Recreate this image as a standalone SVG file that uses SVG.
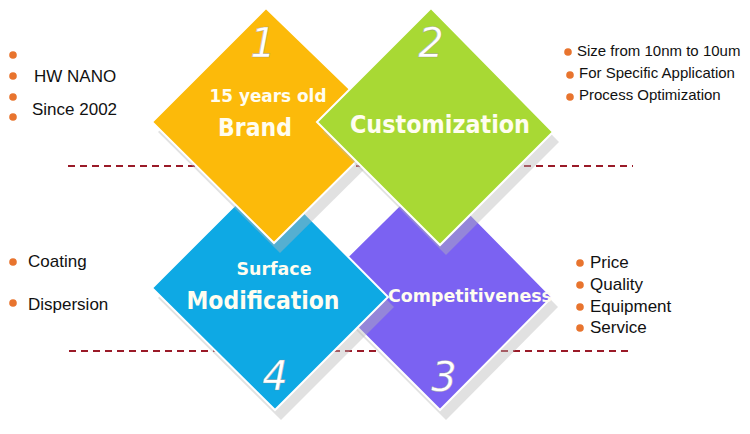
<svg xmlns="http://www.w3.org/2000/svg" width="750" height="434" viewBox="0 0 750 434">
<style>
.dash{stroke:#9a1a28;stroke-width:1.8;stroke-dasharray:7 5;fill:none}
.shadow{fill:#b8b8b8;fill-opacity:0.42}
.dia{stroke:#ffffff;stroke-width:2;stroke-linejoin:miter}
.num{font-family:"DejaVu Sans",Verdana,sans-serif;font-style:italic;font-size:40px;fill:#ffffff;stroke:#8a8a8a;stroke-width:0.6;stroke-opacity:0.6;text-anchor:middle}
.lbl{font-family:"DejaVu Sans",Verdana,sans-serif;font-weight:bold;fill:#fffdf0;text-anchor:middle}
.item{font-family:"Liberation Sans",Arial,sans-serif;font-size:17px;fill:#111111}
.item.sm{font-size:15px}
.dot{fill:#e8742e}
</style>
<rect width="750" height="434" fill="#ffffff"/>
<g id="guides">
<line class="dash" x1="68" y1="166" x2="633" y2="166"/>
<line class="dash" x1="69" y1="351" x2="633" y2="351"/>
</g>
<g id="node-3">
<polygon class="shadow" points="437,184 558,307 446,420 323,297"/>
<polygon class="dia" fill="#7b62f2" points="431,174 552,297 440,410 317,287"/>
</g>
<g id="node-4">
<polygon class="shadow" points="272,184 394,307 281,420 158,298"/>
<polygon class="dia" fill="#0ea9e4" points="266,174 388,297 275,410 152,288"/>
<text class="lbl" x="274" y="275" font-size="18" textLength="75" lengthAdjust="spacingAndGlyphs">Surface</text>
<text class="lbl" x="263" y="309" font-size="24" textLength="153" lengthAdjust="spacingAndGlyphs">Modification</text>
<text class="num" x="275" y="390">4</text>
</g>
<g id="node-3-label">
<text class="lbl" x="470" y="302" font-size="18" textLength="164" lengthAdjust="spacingAndGlyphs">Competitiveness</text>
<text class="num" x="444" y="391">3</text>
</g>
<g id="node-1">
<polygon class="shadow" points="272,18 396,138 280,253 158,132"/>
<polygon class="dia" fill="#fcba0a" points="266,8 390,128 274,243 152,122"/>
<text class="num" x="263" y="57">1</text>
<text class="lbl" x="268" y="102" font-size="17" textLength="117" lengthAdjust="spacingAndGlyphs">15 years old</text>
<text class="lbl" x="255" y="136" font-size="24" textLength="74" lengthAdjust="spacingAndGlyphs">Brand</text>
</g>
<g id="node-2">
<polygon class="shadow" points="437,18 559,142 446,255 323,132"/>
<polygon class="dia" fill="#a8d934" points="431,8 553,132 440,245 317,122"/>
<text class="num" x="431" y="57">2</text>
<text class="lbl" x="440" y="133" font-size="24" textLength="180" lengthAdjust="spacingAndGlyphs">Customization</text>
</g>
<g id="list-1">
<circle class="dot" cx="13" cy="55" r="3.8"/>
<circle class="dot" cx="13" cy="76" r="3.8"/>
<circle class="dot" cx="13" cy="97" r="3.8"/>
<circle class="dot" cx="13" cy="117" r="3.8"/>
<text class="item" x="34" y="82">HW NANO</text>
<text class="item" x="32" y="115">Since 2002</text>
</g>
<g id="list-2">
<circle class="dot" cx="568" cy="52" r="3.8"/>
<circle class="dot" cx="570" cy="75" r="3.8"/>
<circle class="dot" cx="570" cy="97" r="3.8"/>
<text class="item sm" x="577" y="56">Size from 10nm to 10um</text>
<text class="item sm" x="579" y="78">For Specific Application</text>
<text class="item sm" x="579" y="100">Process Optimization</text>
</g>
<g id="list-4">
<circle class="dot" cx="13" cy="262" r="3.8"/>
<circle class="dot" cx="13" cy="303" r="3.8"/>
<text class="item" x="28" y="267">Coating</text>
<text class="item" x="28" y="310">Dispersion</text>
</g>
<g id="list-3">
<circle class="dot" cx="580" cy="263" r="3.8"/>
<circle class="dot" cx="580" cy="285" r="3.8"/>
<circle class="dot" cx="580" cy="307" r="3.8"/>
<circle class="dot" cx="580" cy="328" r="3.8"/>
<text class="item" x="590" y="268">Price</text>
<text class="item" x="590" y="290">Quality</text>
<text class="item" x="590" y="312">Equipment</text>
<text class="item" x="590" y="333">Service</text>
</g>
</svg>
